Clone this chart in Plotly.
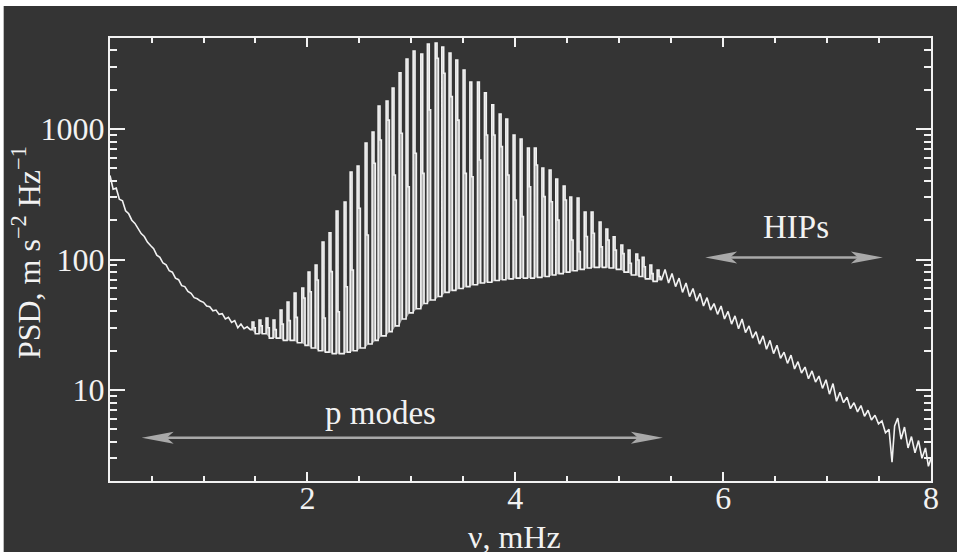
import math
import plotly.graph_objects as go

# ---- data (frequency in mHz, PSD in m^2 s^-4 Hz^-1) ----
# low-frequency granulation continuum
cont_freq = [0.100, 0.130, 0.160, 0.190, 0.220, 0.250, 0.280, 0.310, 0.340, 0.370,
             0.400, 0.430, 0.460, 0.490, 0.520, 0.550, 0.580, 0.610, 0.640, 0.670,
             0.700, 0.730, 0.760, 0.790, 0.820, 0.850, 0.880, 0.910, 0.940, 0.970,
             1.000, 1.030, 1.060, 1.090, 1.120, 1.150, 1.180, 1.210, 1.240, 1.270,
             1.300, 1.330, 1.360, 1.390, 1.420, 1.450]
cont_psd = [440, 345, 352, 290, 282, 236, 224, 200, 189, 172,
            158, 150, 136, 128, 121, 108, 104, 94, 91, 82,
            80, 72, 70, 63, 62, 57, 55, 51, 50, 48,
            47, 44, 43.5, 40.5, 41, 38, 38.5, 35, 36, 33,
            34, 30, 32, 29.5, 30.5, 29]

# p-mode comb: peak centres, peak heights, neighbouring-mode shoulders, local minima
mode_freq = [1.476, 1.543, 1.611, 1.678, 1.746, 1.813, 1.881, 1.955, 2.015, 2.083,
             2.150, 2.217, 2.285, 2.362, 2.420, 2.487, 2.564, 2.631, 2.689, 2.766,
             2.824, 2.891, 2.958, 3.026, 3.100, 3.163, 3.238, 3.302, 3.372, 3.437,
             3.507, 3.572, 3.645, 3.712, 3.783, 3.854, 3.918, 3.988, 4.056, 4.126,
             4.192, 4.265, 4.335, 4.399, 4.470, 4.534, 4.604, 4.672, 4.739, 4.816,
             4.881, 4.951, 5.025, 5.095, 5.169, 5.230, 5.304, 5.374]
mode_peak = [33.2, 34.4, 35.6, 34.4, 41.0, 47.2, 55.3, 60.5, 80.2, 90.7,
             136, 160, 235, 276, 468, 520, 781, 948, 1500, 1640,
             2060, 2690, 3440, 3960, 3750, 4480, 4560, 4250, 3820, 3380,
             2830, 2290, 2290, 1890, 1530, 1300, 1190, 899, 838, 714,
             714, 502, 485, 414, 366, 301, 296, 231, 231, 194,
             171, 149, 129, 118, 110, 104, 90.7, 83.2]
mode_shoulder = [30, 31, 30, 29, 32, 34, 36, 50.7, 56.6, 69.7,
                 35.6, 80.7, 39.8, 61.9, 83.2, 247, 154, 546, 824, 1170,
                 444, 927, 361, 652, 457, 1400, 3480, 2670, 1770, 1170,
                 457, 431, 578, 899, 899, 732, 444, 286, 213, 361,
                 530, 303, 277, 201, 286, 141, 115, 150, 159, 125,
                 141, 118, 111, 93.5, 99, 88, 78, 74]
mode_trough = [29, 27, 27, 25, 25, 24, 24, 23, 22, 21,
               20, 19.5, 19, 19, 19.5, 20, 21, 22.5, 24, 26,
               28, 31, 35, 39, 42, 46, 49, 52, 56, 58,
               60, 62, 64, 66, 67, 69, 70, 71, 72, 72,
               72, 73, 74, 76, 78, 80, 82, 84, 86, 87,
               87, 86, 84, 80, 76, 74, 71, 68]

# high-frequency tail (high-frequency interference peaks)
tail_freq = [5.408, 5.441, 5.475, 5.508, 5.542, 5.576, 5.609, 5.643, 5.677, 5.710,
             5.744, 5.778, 5.811, 5.845, 5.879, 5.912, 5.946, 5.980, 6.013, 6.047,
             6.081, 6.114, 6.148, 6.182, 6.215, 6.249, 6.283, 6.316, 6.350, 6.384,
             6.417, 6.451, 6.485, 6.518, 6.552, 6.586, 6.619, 6.653, 6.687, 6.720,
             6.754, 6.788, 6.821, 6.855, 6.889, 6.922, 6.956, 6.990, 7.023, 7.057,
             7.091, 7.124, 7.158, 7.192, 7.225, 7.259, 7.293, 7.326, 7.360, 7.394,
             7.427, 7.461, 7.495, 7.528, 7.562, 7.596, 7.625, 7.650, 7.680, 7.712,
             7.745, 7.779, 7.812, 7.846, 7.880, 7.913, 7.947, 7.975, 8.000]
tail_psd = [70, 84, 66, 78, 62, 72, 56, 66, 52, 60,
            48, 55, 44, 51, 41, 46, 38, 44, 35, 40,
            32, 37, 29.5, 35, 27.5, 31, 25, 28, 22.5, 26,
            20.5, 24, 19, 22, 17.5, 19.5, 16, 18.5, 14.5, 16.5,
            13.5, 15, 12.2, 14, 11.5, 12.8, 10.3, 12, 9.3, 11.2,
            8.2, 9.6, 8.0, 8.8, 7.2, 8.0, 6.8, 7.6, 6.3, 7.0,
            5.9, 6.4, 5.5, 5.8, 4.7, 5.0, 2.8, 5.3, 6.1, 4.2,
            5.2, 3.6, 4.4, 3.3, 4.1, 3.0, 3.6, 2.6, 3.0]

# axis ticks
x_major = [2, 4, 6, 8]
x_minor = [0.5, 1, 1.5, 2.5, 3, 3.5, 4.5, 5, 5.5, 6.5, 7, 7.5]
y_major = [10, 100, 1000]
y_minor = [2, 3, 4, 5, 6, 7, 8, 9, 20, 30, 40, 50, 60, 70, 80, 90,
           200, 300, 400, 500, 600, 700, 800, 900, 2000, 3000, 4000]

# annotation arrows: (left tip, right tip, level)
pmode_arrow = (0.405, 5.42, 4.31)
hip_arrow = (5.827, 7.537, 103.6)

# ---- styling ----
BG = "#343434"
FG = "#f2f2f2"
ARROW = "#a9a9a9"
FONT = "Liberation Serif"
FS = 32
FS_NOTE = 33

# spike geometry (mHz): half-width of the main peak and extent of its shoulder
HALF = 0.009
SHOULDER = 0.022

spec_x, spec_y = list(cont_freq), list(cont_psd)
fill_x, fill_y = [], []
for i, f in enumerate(mode_freq):
    base = mode_trough[i]
    nxt = mode_trough[i + 1] if i + 1 < len(mode_freq) else tail_psd[0]
    sx = [f - HALF, f - HALF, f + HALF, f + HALF, f + SHOULDER, f + SHOULDER]
    sy = [base, mode_peak[i], mode_peak[i], mode_shoulder[i], mode_shoulder[i], nxt]
    spec_x += sx
    spec_y += sy
    fill_x += sx + [None]
    fill_y += sy + [None]
spec_x += tail_freq
spec_y += tail_psd

fig = go.Figure()

# grey body of the mode spikes
fig.add_trace(go.Scatter(x=fill_x, y=fill_y, mode="lines", fill="toself",
                         fillcolor="#b0b0b0", line=dict(width=0, color="#b0b0b0"),
                         hoverinfo="skip", showlegend=False))
# spectrum outline
fig.add_trace(go.Scatter(x=spec_x, y=spec_y, mode="lines",
                         line=dict(color=FG, width=1.6), showlegend=False))

# arrow shafts
for x0, x1, lvl in (pmode_arrow, hip_arrow):
    fig.add_trace(go.Scatter(x=[x0 + 0.15, x1 - 0.15], y=[lvl, lvl], mode="lines",
                             line=dict(color=ARROW, width=2.6), hoverinfo="skip",
                             showlegend=False))

shapes = []
# arrow heads, sized in pixels and anchored at the tips
HEAD_L = "M 0 0 L 32 6 L 25 0 L 32 -6 Z"
HEAD_R = "M 0 0 L -32 6 L -25 0 L -32 -6 Z"
for x0, x1, lvl in (pmode_arrow, hip_arrow):
    for xa, path in ((x0, HEAD_L), (x1, HEAD_R)):
        shapes.append(dict(type="path", xref="x", yref="y", xsizemode="pixel",
                           ysizemode="pixel", xanchor=xa, yanchor=lvl, path=path,
                           fillcolor=ARROW, line=dict(width=0), layer="above"))

# white page edges along the top and left
shapes.append(dict(type="rect", xref="paper", yref="paper", x0=-0.2, x1=1.2,
                   y0=1.0722, y1=1.2, fillcolor="white", line=dict(width=0)))
shapes.append(dict(type="rect", xref="paper", yref="paper", x0=-0.2, x1=-0.1295,
                   y0=-0.3, y1=1.2, fillcolor="white", line=dict(width=0)))

annotations = [
    dict(text="p modes", x=2.70, y=math.log10(6.67), xref="x", yref="y",
         xanchor="center", yanchor="middle", showarrow=False,
         font=dict(family=FONT, size=FS_NOTE, color=FG)),
    dict(text="HIPs", x=6.70, y=math.log10(176), xref="x", yref="y",
         xanchor="center", yanchor="middle", showarrow=False,
         font=dict(family=FONT, size=FS_NOTE, color=FG)),
    dict(text="PSD, m s<sup>−2</sup> Hz<sup>−1</sup>", textangle=-90,
         x=-0.102, y=0.515, xref="paper", yref="paper",
         xanchor="center", yanchor="middle", showarrow=False,
         font=dict(family=FONT, size=FS, color=FG)),
    dict(text="ν, mHz", x=0.493, y=-0.081, xref="paper", yref="paper",
         xanchor="center", yanchor="top", showarrow=False,
         font=dict(family=FONT, size=FS, color=FG)),
]

axis_common = dict(showline=True, linecolor=FG, linewidth=2, mirror="allticks",
                   ticks="inside", tickcolor=FG, tickwidth=2, showgrid=False,
                   zeroline=False, tickfont=dict(family=FONT, size=FS, color=FG))

fig.update_layout(
    width=957, height=552,
    margin=dict(l=110, r=26, t=38, b=71),
    paper_bgcolor=BG, plot_bgcolor=BG,
    showlegend=False,
    shapes=shapes,
    annotations=annotations,
    xaxis=dict(range=[0.1, 8.0], tickmode="array", tickvals=x_major,
               ticklen=9, ticklabelstandoff=-12,
               minor=dict(tickmode="array", tickvals=x_minor, ticks="inside",
                          ticklen=5, tickwidth=1.6, tickcolor=FG, showgrid=False),
               **axis_common),
    yaxis=dict(type="log", range=[0.303, 3.697], tickmode="array",
               tickvals=y_major, ticktext=[str(v) for v in y_major],
               ticklen=15, ticklabelstandoff=-3,
               minor=dict(tickmode="array", tickvals=y_minor, ticks="inside",
                          ticklen=7, tickwidth=1.6, tickcolor=FG, showgrid=False),
               **axis_common),
)

fig.write_html("out.html")
